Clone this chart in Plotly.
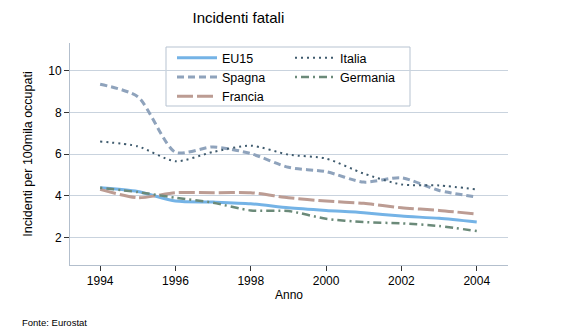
import plotly.graph_objects as go

# Fatal workplace accidents per 100k employed, 1994-2004
anni = list(range(1994, 2005))
eu15 = [4.38, 4.20, 3.74, 3.69, 3.61, 3.42, 3.29, 3.18, 3.02, 2.91, 2.73]
spagna = [9.35, 8.75, 6.08, 6.34, 6.02, 5.36, 5.15, 4.65, 4.86, 4.25, 3.93]
francia = [4.30, 3.90, 4.14, 4.14, 4.14, 3.90, 3.74, 3.63, 3.42, 3.29, 3.12]
italia = [6.60, 6.37, 5.65, 6.10, 6.40, 5.97, 5.78, 5.06, 4.54, 4.49, 4.30]
germania = [4.38, 4.17, 3.90, 3.66, 3.29, 3.26, 2.89, 2.73, 2.67, 2.54, 2.30]

x_ticks = [1994, 1996, 1998, 2000, 2002, 2004]
y_ticks = [2, 4, 6, 8, 10]

FONT = "Liberation Sans, Arial, sans-serif"
AXIS_COL = "#b3bfcd"
GRID_COL = "#c9d3de"

series = [
    ("EU15", eu15, "#74b3e6", 3, "solid", "legend"),
    ("Spagna", spagna, "#8fa3bc", 3, "7px,4px", "legend"),
    ("Francia", francia, "#bc9c93", 3, "16px,4px", "legend"),
    ("Italia", italia, "#3e5a6d", 2, "2px,4px", "legend2"),
    ("Germania", germania, "#6b8a79", 2.5, "2px,4px,8px,4px", "legend2"),
]

fig = go.Figure()
for name, vals, col, w, dash, leg in series:
    fig.add_trace(go.Scatter(
        x=anni, y=vals, name=name, mode="lines",
        line=dict(color=col, width=w, dash=dash, shape="spline", smoothing=0.7),
        legend=leg,
    ))

legend_common = dict(
    bgcolor="rgba(0,0,0,0)", borderwidth=0, itemwidth=40,
    font=dict(family=FONT, size=12.5, color="#000000"),
    orientation="v", xanchor="left", yanchor="top", tracegroupgap=0,
)

fig.update_layout(
    width=569, height=335,
    margin=dict(l=70, r=61, t=43, b=70),
    paper_bgcolor="white", plot_bgcolor="white",
    font=dict(family=FONT, size=12, color="#000000"),
    title=dict(text="Incidenti fatali", x=0.419, xanchor="center", xref="container",
               y=1 - 18 / 335, yanchor="middle", yref="container",
               font=dict(family=FONT, size=15, color="#000000")),
    legend=dict(x=(172 - 70) / 438, y=(265 - 43) / 222, **legend_common),
    legend2=dict(x=(290 - 70) / 438, y=(265 - 43) / 222, **legend_common),
    shapes=[dict(type="rect", xref="paper", yref="paper",
                 x0=(166 - 70) / 438, x1=(410 - 70) / 438,
                 y0=(265 - 106) / 222, y1=(265 - 47) / 222,
                 line=dict(color="#b7c3d1", width=1), fillcolor="white",
                 layer="below")],
    annotations=[dict(text="Fonte: Eurostat", xref="paper", yref="paper",
                      x=(20 - 70) / 438, y=(265 - 322) / 222,
                      xanchor="left", yanchor="middle", showarrow=False,
                      font=dict(family=FONT, size=9.5, color="#000000"))],
    showlegend=True,
)

fig.update_xaxes(
    range=[1993.2, 2004.83], tickvals=x_ticks, ticktext=[str(v) for v in x_ticks],
    showgrid=False, zeroline=False, showline=True, linecolor=AXIS_COL, linewidth=1,
    ticks="outside", ticklen=5, tickcolor="#333333",
    tickfont=dict(family=FONT, size=12),
    title=dict(text="Anno", standoff=3, font=dict(family=FONT, size=12)),
)
fig.update_yaxes(
    range=[0.67, 11.33], tickvals=y_ticks, ticktext=[str(v) for v in y_ticks],
    showgrid=True, gridcolor=GRID_COL, gridwidth=1, zeroline=False,
    showline=True, linecolor=AXIS_COL, linewidth=1,
    ticks="outside", ticklen=5, tickcolor="#333333",
    tickfont=dict(family=FONT, size=12),
    title=dict(text="Incidenti per 100mila occupati", standoff=12,
               font=dict(family=FONT, size=12.5)),
)

fig.write_html("out.html")
